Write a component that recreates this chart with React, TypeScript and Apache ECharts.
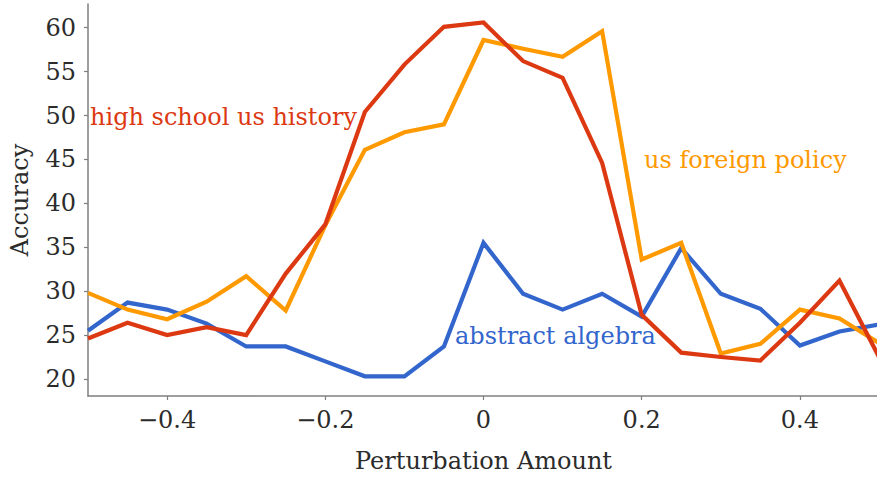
import React, { useEffect, useRef } from "react";
import * as echarts from "echarts";

const perturbation = [
  -0.5, -0.45, -0.4, -0.35, -0.3, -0.25, -0.2, -0.15, -0.1, -0.05, 0,
  0.05, 0.1, 0.15, 0.2, 0.25, 0.3, 0.35, 0.4, 0.45, 0.5,
];
const highSchoolUsHistory = [
  24.6, 26.4, 25.0, 25.9, 25.0, 32.0, 37.6, 50.4, 55.8, 60.1, 60.6,
  56.2, 54.3, 44.6, 27.3, 23.0, 22.5, 22.1, 26.4, 31.2, 22.5,
];
const usForeignPolicy = [
  29.8, 27.9, 26.8, 28.8, 31.7, 27.8, 37.5, 46.1, 48.1, 49.0, 58.6,
  57.6, 56.7, 59.6, 33.6, 35.5, 22.9, 24.0, 27.9, 26.9, 24.1,
];
const abstractAlgebra = [
  25.5, 28.7, 27.9, 26.3, 23.7, 23.7, 22.0, 20.3, 20.3, 23.7, 35.5,
  29.7, 27.9, 29.7, 27.1, 34.9, 29.7, 28.0, 23.8, 25.4, 26.2,
];
const yTicks = [20, 25, 30, 35, 40, 45, 50, 55, 60];
const xTicks = [-0.4, -0.2, 0, 0.2, 0.4];

const FONT = "DejaVu Serif";
const FS = 24;
const TXT = "#2b2b2b";

export default function App() {
  const ref = useRef<HTMLDivElement>(null);
  useEffect(() => {
    if (!ref.current) return;
    const chart = echarts.init(ref.current, undefined, { renderer: "svg" });
    const pair = (vals: number[]) => perturbation.map((x, i) => [x, vals[i]]);
    const lineSeries = (name: string, vals: number[], color: string) => ({
      name,
      type: "line",
      data: pair(vals),
      showSymbol: false,
      symbol: "none",
      lineStyle: { color, width: 4.2, join: "miter" },
      itemStyle: { color },
      z: 3,
    });
    chart.setOption({
      animation: false,
      backgroundColor: "#ffffff",
      textStyle: { fontFamily: FONT },
      grid: {
        left: 88,
        right: -2,
        top: 4,
        bottom: 81,
        containLabel: false,
        outerBoundsMode: "none",
      },
      xAxis: {
        type: "value",
        min: -0.5,
        max: 0.5,
        name: "Perturbation Amount",
        nameLocation: "middle",
        nameGap: 53,
        nameTextStyle: { fontFamily: FONT, fontSize: FS, color: TXT },
        axisLine: { show: true, onZero: false, lineStyle: { color: "#7f7f7f", width: 1.5 } },
        axisTick: {
          show: true,
          length: 4,
          lineStyle: { color: "#7f7f7f", width: 1.2 },
          customValues: xTicks,
        },
        axisLabel: {
          fontFamily: FONT,
          fontSize: FS,
          color: TXT,
          margin: 12,
          customValues: xTicks,
          formatter: (v: number) => {
            const r = Math.round(v * 10) / 10;
            if (r === 0) return "0";
            return r < 0 ? "\u2212" + Math.abs(r).toString() : r.toString();
          },
        },
        splitLine: { show: false },
      },
      yAxis: {
        type: "value",
        min: 18.06,
        max: 62.7,
        name: "Accuracy",
        nameLocation: "middle",
        nameGap: 56,
        nameRotate: 90,
        nameTextStyle: { fontFamily: FONT, fontSize: FS, color: TXT },
        axisLine: { show: true, onZero: false, lineStyle: { color: "#7f7f7f", width: 1.5 } },
        axisTick: {
          show: true,
          length: 4,
          lineStyle: { color: "#7f7f7f", width: 1.2 },
          customValues: yTicks,
        },
        axisLabel: {
          fontFamily: FONT,
          fontSize: FS,
          color: TXT,
          margin: 12,
          customValues: yTicks,
        },
        splitLine: { show: false },
      },
      series: [
        lineSeries("abstract algebra", abstractAlgebra, "#3366cc"),
        lineSeries("us foreign policy", usForeignPolicy, "#ff9900"),
        lineSeries("high school us history", highSchoolUsHistory, "#dc3912"),
      ],
      graphic: [
        {
          type: "text",
          x: 90,
          y: 117,
          style: {
            text: "high school us history",
            fill: "#dc3912",
            font: `${FS}px "${FONT}"`,
            textVerticalAlign: "middle",
          },
          z: 10,
        },
        {
          type: "text",
          x: 644,
          y: 160,
          style: {
            text: "us foreign policy",
            fill: "#ff9900",
            font: `${FS}px "${FONT}"`,
            textVerticalAlign: "middle",
          },
          z: 10,
        },
        {
          type: "text",
          x: 455,
          y: 336,
          style: {
            text: "abstract algebra",
            fill: "#3366cc",
            font: `${FS}px "${FONT}"`,
            textVerticalAlign: "middle",
          },
          z: 10,
        },
      ],
    });
    return () => chart.dispose();
  }, []);
  return <div ref={ref} style={{ width: 877, height: 477, position: "absolute", left: 0, top: 0 }} />;
}
